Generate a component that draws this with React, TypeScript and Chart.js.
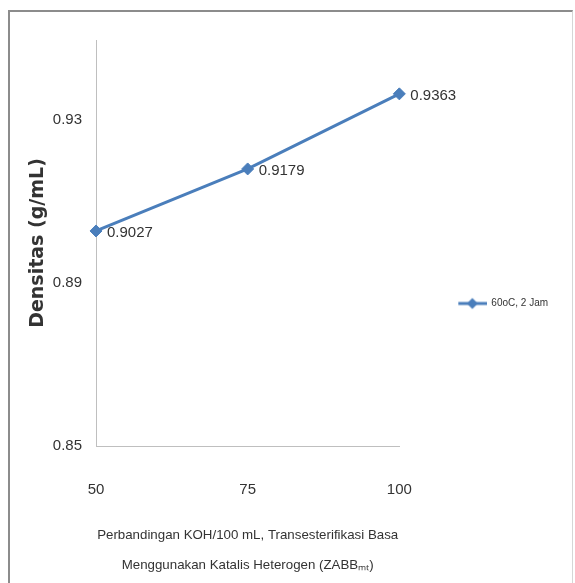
import React, { useEffect, useRef } from 'react';
import { Chart, registerables } from 'chart.js';

Chart.register(...registerables);

// ---- data ----
const ratios = [50, 75, 100];
const densities = [0.9027, 0.9179, 0.9363];
const seriesLabel = '60oC, 2 Jam';
const xTickValues = [50, 75, 100];
const yTickValues = [0.85, 0.89, 0.93];
const yTitle = 'Densitas (g/mL)';
const xTitle = [
  'Perbandingan KOH/100 mL, Transesterifikasi Basa',
  'Menggunakan Katalis Heterogen (ZABBₘₜ)',
];

const BLUE = '#4A7EBB';
const TEXT = '#333333';
const SANS = "'Liberation Sans', Arial, sans-serif";

function makeLegendIcon(): HTMLCanvasElement {
  const c = document.createElement('canvas');
  c.width = 30;
  c.height = 14;
  const g = c.getContext('2d')!;
  g.strokeStyle = BLUE;
  g.lineWidth = 3;
  g.beginPath();
  g.moveTo(0, 7);
  g.lineTo(30, 7);
  g.stroke();
  g.fillStyle = BLUE;
  g.beginPath();
  g.moveTo(15, 1.5);
  g.lineTo(20.5, 7);
  g.lineTo(15, 12.5);
  g.lineTo(9.5, 7);
  g.closePath();
  g.fill();
  return c;
}

const dataLabels = {
  id: 'dataLabels',
  afterDatasetsDraw(chart: any) {
    const ctx = chart.ctx;
    const meta = chart.getDatasetMeta(0);
    ctx.save();
    ctx.font = `15px ${SANS}`;
    ctx.fillStyle = TEXT;
    ctx.textAlign = 'left';
    ctx.textBaseline = 'middle';
    meta.data.forEach((pt: any, i: number) => {
      ctx.fillText(densities[i].toFixed(4), pt.x + 11, pt.y + 2);
    });
    ctx.restore();
  },
};

export default function App() {
  const ref = useRef<HTMLCanvasElement>(null);

  useEffect(() => {
    document.body.style.margin = '0';
    document.body.style.overflow = 'hidden';
    if (!ref.current) return;
    const icon = makeLegendIcon();
    const chart = new Chart(ref.current, {
      type: 'line',
      data: {
        datasets: [
          {
            label: seriesLabel,
            data: ratios.map((x, i) => ({ x, y: densities[i] })),
            borderColor: BLUE,
            backgroundColor: BLUE,
            borderWidth: 3,
            pointStyle: 'rectRot',
            pointRadius: 6,
            pointBackgroundColor: BLUE,
            pointBorderColor: BLUE,
            pointBorderWidth: 1,
            tension: 0,
            clip: false as any,
          },
        ],
      },
      options: {
        animation: false,
        responsive: false,
        layout: { padding: { left: 0, right: 25, top: 24, bottom: 0 } },
        scales: {
          x: {
            type: 'linear',
            min: 50,
            max: 100,
            afterBuildTicks: (s: any) => {
              s.ticks = xTickValues.map((v) => ({ value: v }));
            },
            afterFit: (s: any) => {
              s.height = 137;
            },
            ticks: {
              font: { family: SANS, size: 15 },
              color: TEXT,
              padding: 35,
              callback: (v: any) => String(v),
            },
            grid: { display: false, drawTicks: false },
            border: { display: true, color: '#BFBFBF', width: 1 },
            title: {
              display: true,
              text: xTitle,
              font: { family: SANS, size: 13.3, lineHeight: 2.2556 },
              color: TEXT,
              padding: { top: 0, bottom: 3 },
            },
          },
          y: {
            type: 'linear',
            min: 0.85,
            max: 0.9495,
            afterBuildTicks: (s: any) => {
              s.ticks = yTickValues.map((v) => ({ value: v }));
            },
            afterFit: (s: any) => {
              s.width = 96;
            },
            ticks: {
              font: { family: SANS, size: 15 },
              color: TEXT,
              padding: 14,
              callback: (v: any) => Number(v).toFixed(2),
            },
            grid: { display: false, drawTicks: false },
            border: { display: true, color: '#BFBFBF', width: 1 },
            title: {
              display: true,
              text: yTitle,
              font: { family: "'DejaVu Sans', sans-serif", size: 19, weight: 'bold' },
              color: TEXT,
              padding: { top: 26.6, bottom: 0 },
            },
          },
          yGap: {
            type: 'linear',
            position: 'right',
            display: true,
            afterFit: (s: any) => {
              s.width = 59;
            },
            ticks: { display: false },
            grid: { display: false, drawTicks: false },
            border: { display: false },
          },
        },
        plugins: {
          legend: {
            position: 'right',
            align: 'center',
            labels: {
              usePointStyle: true,
              pointStyle: icon as any,
              pointStyleWidth: 28,
              padding: 0,
              boxHeight: 10,
              font: { family: SANS, size: 10 },
              color: TEXT,
            },
          },
          title: {
            display: true,
            text: '',
            fullSize: false,
            padding: 0,
            font: { size: 10, lineHeight: 1.6 },
          },
          tooltip: { enabled: false },
        },
      },
      plugins: [dataLabels],
    });
    return () => chart.destroy();
  }, []);

  return (
    <div style={{ position: 'relative', width: 575, height: 583, overflow: 'hidden', background: '#fff' }}>
      <div
        style={{
          position: 'absolute',
          left: 8,
          top: 10,
          width: 562,
          height: 640,
          borderLeft: '2px solid #8c8c8c',
          borderTop: '2px solid #8c8c8c',
          borderRight: '1px solid #d6d6d6',
        }}
      />
      <canvas ref={ref} width={575} height={583} style={{ position: 'absolute', left: 0, top: 0 }} />
    </div>
  );
}
